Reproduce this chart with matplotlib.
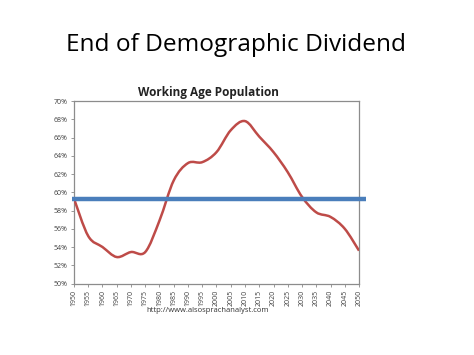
import numpy as np
import matplotlib
matplotlib.use("Agg")
import matplotlib.pyplot as plt
from matplotlib.path import Path
from matplotlib.patches import PathPatch

years = [1950, 1955, 1960, 1965, 1970, 1975, 1980, 1985, 1990, 1995, 2000,
         2005, 2010, 2015, 2020, 2025, 2030, 2035, 2040, 2045, 2050]
working_age = [59.3, 55.2, 54.0, 52.9, 53.45, 53.45, 56.9, 61.3, 63.2, 63.3, 64.4,
               66.8, 67.8, 66.1, 64.4, 62.2, 59.5, 57.8, 57.3, 56.0, 53.6]
threshold = 59.3
ytick_vals = [50, 52, 54, 56, 58, 60, 62, 64, 66, 68, 70]
xtick_vals = list(range(1950, 2051, 5))

fig = plt.figure(figsize=(4.74, 3.55), dpi=100)
fig.patch.set_facecolor("white")
ax = fig.add_axes([0.1561, 0.2014, 0.6013, 0.514])

# smooth curve (Excel-style smoothed line) via cubic Bezier through data points
x = np.array(years, float)
y = np.array(working_age, float)
verts = [(x[0], y[0])]
codes = [Path.MOVETO]
n = len(x)
for i in range(n - 1):
    p0 = (x[i - 1], y[i - 1]) if i > 0 else (x[i], y[i])
    p1 = (x[i], y[i])
    p2 = (x[i + 1], y[i + 1])
    p3 = (x[i + 2], y[i + 2]) if i + 2 < n else (x[i + 1], y[i + 1])
    t = 1 / 6
    c1 = (p1[0] + (p2[0] - p0[0]) * t, p1[1] + (p2[1] - p0[1]) * t)
    c2 = (p2[0] - (p3[0] - p1[0]) * t, p2[1] - (p3[1] - p1[1]) * t)
    verts += [c1, c2, p2]
    codes += [Path.CURVE4] * 3
ax.add_patch(PathPatch(Path(verts, codes), facecolor="none", edgecolor="#BE4B48",
                       lw=1.8, zorder=3))

ax.plot([1949.3, 2052.5], [threshold, threshold], color="#4A7EBB", lw=3.2,
        clip_on=False, zorder=4, solid_capstyle="butt")

ax.set_xlim(1950, 2050)
ax.set_ylim(50, 70)
ax.set_yticks(ytick_vals)
ax.set_yticklabels([f"{v}%" for v in ytick_vals], fontsize=5, color="#404040",
                   family="Open Sans")
ax.set_xticks(xtick_vals)
ax.set_xticklabels([str(v) for v in xtick_vals], rotation=90, fontsize=5,
                   color="#404040", family="Open Sans")
ax.tick_params(axis="both", length=2.5, width=0.6, color="#888888", pad=2)
for s in ax.spines.values():
    s.set_color("#8c8c8c")
    s.set_linewidth(0.9)

fig.text(0.498, 0.873, "End of Demographic Dividend", ha="center", va="center",
         fontsize=17.6, family="Open Sans", color="black")
fig.text(0.44, 0.74, "Working Age Population", ha="center", va="center",
         fontsize=8.5, fontweight="bold", family="Open Sans", color="#222222")
fig.text(0.438, 0.125, "http://www.alsosprachanalyst.com", ha="center", va="center",
         fontsize=5.5, family="Open Sans", color="#333333")

fig.savefig("out.png", dpi=100, facecolor="white")
